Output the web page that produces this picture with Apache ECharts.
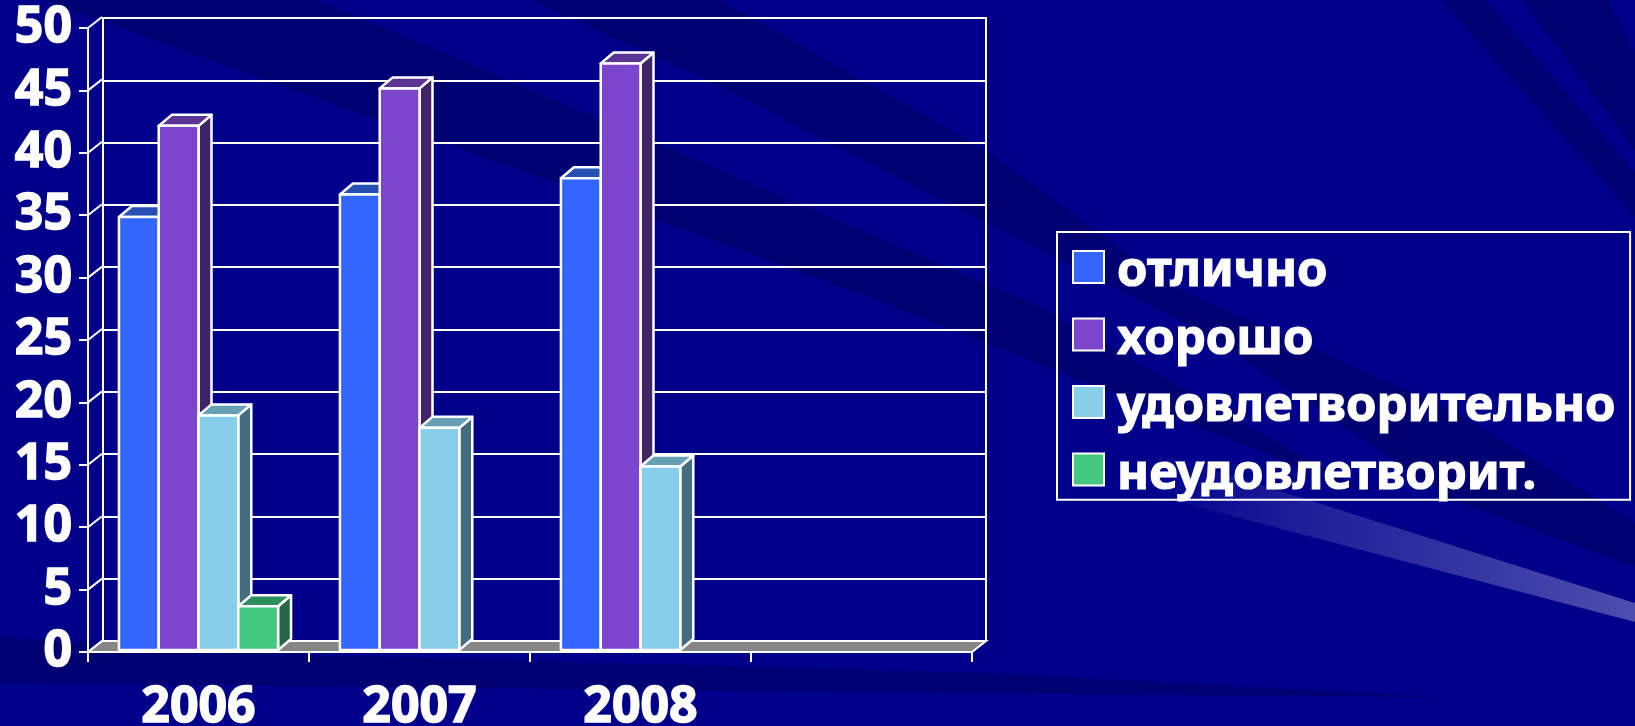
<!DOCTYPE html>
<html>
<head>
<meta charset="utf-8">
<style>
  html, body { margin: 0; padding: 0; background: #00008b; }
  #chart { width: 1635px; height: 726px; }
</style>
</head>
<body>
<div id="chart"></div>
<script src="https://cdn.jsdelivr.net/npm/echarts@6/dist/echarts.min.js"></script>
<script>
const years = ['2006', '2007', '2008', '']
const yTicks = [0, 5, 10, 15, 20, 25, 30, 35, 40, 45, 50]

const seriesNames = ['отлично', 'хорошо', 'удовлетворительно', 'неудовлетворит.']
const excellent = [34.7, 36.5, 37.8, null]
const good = [42, 45, 47, null]
const satisfactory = [18.8, 17.8, 14.7, null]
const poor = [3.5, null, null, null]
const seriesValues = [excellent, good, satisfactory, poor]

const frontColors = ['#3366ff', '#7b46cc', '#87ceeb', '#44c77f']
const topColors = ['#2650b4', '#5a3596', '#66a0b4', '#2c8f5c']
const sideColors = ['#1f3f8f', '#3f2466', '#436c80', '#236a42']

const font = '"Noto Sans", sans-serif'
const depthX = 14
const depthY = -11
const barDepthX = 13
const barDepthY = -11

const chart = echarts.init(document.getElementById('chart'))

const barStyle = (fill) => ({ fill, stroke: '#fff', lineWidth: 2.5, lineJoin: 'round' })

function renderBar(params, api) {
  const s = params.seriesIndex - 2
  const bandW = api.size([1, 0])[0]
  const w = bandW * 0.18
  const base = api.coord([api.value(0), 0])
  const head = api.coord([api.value(0), api.value(1)])
  const x = base[0] + (s - 2) * w
  const y1 = base[1] - 2
  const y0 = head[1] - 2
  const poly = (points, fill) => ({
    type: 'polygon',
    shape: { points },
    style: barStyle(fill),
  })
  return {
    type: 'group',
    children: [
      poly([[x + w, y1], [x + w + barDepthX, y1 + barDepthY], [x + w + barDepthX, y0 + barDepthY], [x + w, y0]], sideColors[s]),
      poly([[x, y0], [x + w, y0], [x + w + barDepthX, y0 + barDepthY], [x + barDepthX, y0 + barDepthY]], topColors[s]),
      poly([[x, y0], [x + w, y0], [x + w, y1], [x, y1]], frontColors[s]),
    ],
  }
}

function renderFloor(params) {
  const c = params.coordSys
  const bottom = c.y + c.height
  const right = c.x + c.width
  return {
    type: 'polygon',
    shape: {
      points: [[c.x, bottom], [right, bottom], [right + depthX, bottom + depthY], [c.x + depthX, bottom + depthY]],
    },
    style: { fill: '#868686', stroke: '#fff', lineWidth: 2 },
  }
}

function renderConnector(params, api) {
  const p = api.coord([0, api.value(1)])
  const x = params.coordSys.x
  return {
    type: 'line',
    shape: { x1: x, y1: p[1], x2: x + depthX, y2: p[1] + depthY },
    style: { stroke: '#fff', lineWidth: 2 },
  }
}

const barSeries = seriesNames.map((name, i) => ({
  name,
  type: 'custom',
  xAxisIndex: 0,
  yAxisIndex: 0,
  clip: false,
  silent: true,
  renderItem: renderBar,
  itemStyle: { color: frontColors[i] },
  encode: { x: 0, y: 1 },
  data: seriesValues[i].map((v, c) => [c, v]).filter((d) => d[1] !== null),
  z: 5,
}))

const stripe = (points, fill) => ({
  type: 'polygon',
  silent: true,
  z: -10,
  shape: { points },
  style: { fill },
})

const darkBand = '#000072'

const labelText = {
  color: '#fff',
  fontFamily: font,
  fontWeight: 'bold',
  fontSize: 50,
  textBorderColor: '#fff',
  textBorderWidth: 1.5,
}

chart.setOption({
  backgroundColor: '#00008b',
  animation: false,
  graphic: [
    stripe([[43, 0], [317, 0], [500, 77], [797, 203], [1040, 307], [1366, 493], [877, 300], [500, 163], [377, 120]], darkBand),
    stripe([[530, 0], [720, 0], [985, 150], [1173, 287], [1457, 413], [1635, 523], [1635, 567], [1453, 500], [1200, 330], [985, 222], [707, 80]], darkBand),
    stripe([[1441, 0], [1485, 0], [1635, 173], [1635, 217]], darkBand),
    stripe([[1522, 0], [1607, 0], [1635, 53], [1635, 150]], darkBand),
    stripe([[0, 637], [300, 655], [985, 673], [1441, 697], [985, 693], [0, 683]], darkBand),
    {
      type: 'polygon',
      silent: true,
      z: -9,
      shape: { points: [[1080, 428], [1635, 603], [1635, 622], [1080, 476]] },
      style: {
        fill: {
          type: 'linear', x: 0, y: 0, x2: 1, y2: 0,
          colorStops: [
            { offset: 0, color: 'rgba(255,255,255,0)' },
            { offset: 0.12, color: 'rgba(255,255,255,0)' },
            { offset: 0.35, color: 'rgba(255,255,255,0.1)' },
            { offset: 1, color: 'rgba(255,255,255,0.3)' },
          ],
        },
      },
    },
  ],
  legend: {
    data: seriesNames,
    orient: 'vertical',
    left: 1057,
    top: 232,
    padding: [15, 14, 0, 15],
    icon: 'rect',
    itemWidth: 31,
    itemHeight: 32,
    itemGap: 17.3,
    selectedMode: false,
    borderColor: '#fff',
    borderWidth: 2,
    itemStyle: { borderColor: '#fff', borderWidth: 2 },
    formatter: (name) => `{t|${name}}`,
    textStyle: {
      color: '#fff',
      fontFamily: font,
      fontWeight: 'bold',
      fontSize: 49,
      textBorderColor: '#fff',
      textBorderWidth: 1.2,
      rich: {
        t: {
          color: '#fff',
          fontFamily: font,
          fontWeight: 'bold',
          fontSize: 49,
          textBorderColor: '#fff',
          textBorderWidth: 1.2,
          padding: [10, 0, 0, 8],
        },
      },
    },
  },
  grid: [
    { left: 88, right: 663, top: 28, bottom: 74, outerBoundsMode: 'none' },
    { left: 103, right: 649, top: 18, bottom: 85, outerBoundsMode: 'none', show: true, borderColor: '#fff', borderWidth: 2, backgroundColor: 'transparent' },
  ],
  xAxis: [
    {
      type: 'category',
      gridIndex: 0,
      data: years,
      axisLine: { show: true, lineStyle: { color: '#fff', width: 2 } },
      axisTick: { show: true, length: 10, lineStyle: { color: '#fff', width: 2 } },
      axisLabel: { ...labelText, margin: 31 },
    },
    {
      type: 'category',
      gridIndex: 1,
      data: years,
      axisLine: { show: false },
      axisTick: { show: false },
      axisLabel: { show: false },
    },
  ],
  yAxis: [
    {
      type: 'value',
      gridIndex: 0,
      min: 0,
      max: 50,
      interval: 5,
      axisLine: { show: true, lineStyle: { color: '#fff', width: 2 } },
      axisTick: { show: true, length: 9, lineStyle: { color: '#fff', width: 2 } },
      axisLabel: { ...labelText, margin: 16, padding: [3, 0, 0, 0] },
      splitLine: { show: false },
    },
    {
      type: 'value',
      gridIndex: 1,
      min: 0,
      max: 50,
      interval: 5,
      axisLine: { show: false },
      axisTick: { show: false },
      axisLabel: { show: false },
      splitLine: { show: true, lineStyle: { color: '#fff', width: 2 } },
    },
  ],
  series: [
    {
      type: 'custom',
      xAxisIndex: 0,
      yAxisIndex: 0,
      clip: false,
      silent: true,
      renderItem: renderFloor,
      data: [[0, 0]],
      z: 3,
    },
    {
      type: 'custom',
      xAxisIndex: 0,
      yAxisIndex: 0,
      clip: false,
      silent: true,
      renderItem: renderConnector,
      encode: { x: 0, y: 1 },
      data: yTicks.map((v) => [0, v]),
      z: 3,
    },
    ...barSeries,
  ],
})
</script>
</body>
</html>
